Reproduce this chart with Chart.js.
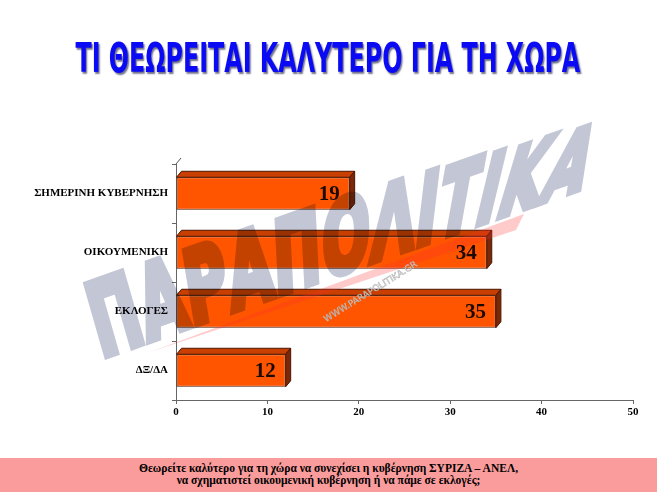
<!DOCTYPE html>
<html>
<head>
<meta charset="utf-8">
<script src="https://cdn.jsdelivr.net/npm/chart.js@4"></script>
<style>
    body { margin: 0; background: #fff; }
    #wrap { position: relative; width: 657px; height: 492px; overflow: hidden; }
    #title {
        position: absolute; left: 328px; top: 38px; white-space: nowrap;
        font-family: "DejaVu Sans", sans-serif; font-stretch: condensed;
        font-weight: bold; font-size: 41px; line-height: 41px; color: #0a0af5;
        text-shadow: 2px 2px 2px #70708a;
        transform-origin: 0 0;
    }
    #footer {
        position: absolute; left: 0; top: 458px; width: 657px; height: 34px;
        background: #fb9c9c; text-align: center;
        font-family: "Liberation Serif", serif; font-weight: bold; font-size: 11.5px;
        line-height: 12px; padding-top: 4px; box-sizing: border-box; color: #000;
    }
    canvas { position: absolute; left: 0; top: 0; }
</style>
</head>
<body>
<div id="wrap">
    <canvas id="chart" width="657" height="492"></canvas>
    <div id="title">ΤΙ ΘΕΩΡΕΙΤΑΙ ΚΑΛΥΤΕΡΟ ΓΙΑ ΤΗ ΧΩΡΑ</div>
    <div id="footer">Θεωρείτε καλύτερο για τη χώρα να συνεχίσει η κυβέρνηση ΣΥΡΙΖΑ – ΑΝΕΛ,<br>να σχηματιστεί οικουμενική κυβέρνηση ή να πάμε σε εκλογές;</div>
</div>
<script>
const categories = ["ΣΗΜΕΡΙΝΗ ΚΥΒΕΡΝΗΣΗ", "ΟΙΚΟΥΜΕΝΙΚΗ", "ΕΚΛΟΓΕΣ", "ΔΞ/ΔΑ"];
const values = [19, 34, 35, 12];
const xTicks = [0, 10, 20, 30, 40, 50];

// squeeze the title to the width it has in the picture
const title = document.getElementById("title");
const sx = 505 / title.offsetWidth;
title.style.transform = `translateX(-252.5px) scaleX(${sx})`;

// watermark is drawn once on its own canvas, then multiplied over the chart.
// letters fan out: the left ones lean left, the right ones lean right
function makeWatermark(w, h) {
    const word = "ΠΑΡΑΠΟΛΙΤΙΚΑ";
    const c = document.createElement("canvas");
    c.width = w;
    c.height = h;
    const g = c.getContext("2d");
    g.font = "bold 100px 'DejaVu Sans', sans-serif";
    const total = g.measureText(word).width;
    const len = 505, ang = 19.5 * Math.PI / 180;
    const k = len / total;
    const ux = Math.cos(ang), uy = -Math.sin(ang);
    g.fillStyle = "#c3c6d4";
    g.strokeStyle = "#c3c6d4";
    g.lineWidth = 8;
    let adv = 0;
    for (let i = 0; i < word.length; i++) {
        const ch = word[i];
        const cw = g.measureText(ch).width;
        const t = i / (word.length - 1);
        const lean = (-16 + 36 * t) * Math.PI / 180;
        const ox = 100 + adv * k * ux;
        const oy = 362 + adv * k * uy;
        g.setTransform(k * ux, k * uy, -Math.sin(lean), Math.cos(lean), ox, oy);
        g.fillText(ch, 4, -4);
        g.strokeText(ch, 4, -4);
        adv += cw;
    }
    return c;
}

// 3D faces for the bars + watermark + value labels
const bar3d = {
    id: "bar3d",
    afterDatasetsDraw(chart) {
        const ctx = chart.ctx;
        const meta = chart.getDatasetMeta(0);
        const dx = 5, dy = 6;
        meta.data.forEach((bar) => {
            const top = bar.y - bar.height / 2;
            const bottom = bar.y + bar.height / 2;
            ctx.save();
            ctx.strokeStyle = "#4a1500";
            ctx.lineWidth = 1;
            // top face
            ctx.beginPath();
            ctx.moveTo(bar.base, top);
            ctx.lineTo(bar.base + dx, top - dy);
            ctx.lineTo(bar.x + dx, top - dy);
            ctx.lineTo(bar.x, top);
            ctx.closePath();
            ctx.fillStyle = "#c93f00";
            ctx.fill();
            ctx.stroke();
            // right face
            ctx.beginPath();
            ctx.moveTo(bar.x, top);
            ctx.lineTo(bar.x + dx, top - dy);
            ctx.lineTo(bar.x + dx, bottom - dy);
            ctx.lineTo(bar.x, bottom);
            ctx.closePath();
            ctx.fillStyle = "#7a2808";
            ctx.fill();
            ctx.stroke();
            ctx.restore();
        });
    },
    afterDraw(chart) {
        const ctx = chart.ctx;
        const area = chart.chartArea;
        // red streak
        ctx.save();
        ctx.globalAlpha = 0.25;
        ctx.fillStyle = "#ff2a2a";
        ctx.beginPath();
        ctx.moveTo(150, 352);
        ctx.lineTo(524, 214);
        ctx.lineTo(516, 230);
        ctx.closePath();
        ctx.fill();
        ctx.restore();

        // big grey word
        ctx.save();
        ctx.globalCompositeOperation = "multiply";
        ctx.drawImage(makeWatermark(chart.width, chart.height), 0, 0);
        ctx.restore();

        // small url
        ctx.save();
        ctx.globalAlpha = 0.8;
        ctx.translate(372, 294);
        ctx.rotate(-0.55);
        ctx.font = "9px 'DejaVu Sans', sans-serif";
        ctx.fillStyle = "#ffffff";
        ctx.strokeStyle = "#999";
        ctx.lineWidth = 0.5;
        ctx.textAlign = "center";
        ctx.fillText("WWW.PARAPOLITIKA.GR", 0, 0);
        ctx.strokeText("WWW.PARAPOLITIKA.GR", 0, 0);
        ctx.restore();

        // value labels
        const meta = chart.getDatasetMeta(0);
        ctx.save();
        ctx.font = "bold 21px 'Liberation Serif', serif";
        ctx.fillStyle = "#1a0a00";
        ctx.textAlign = "right";
        ctx.textBaseline = "middle";
        meta.data.forEach((bar, i) => {
            ctx.fillText(values[i], bar.x - 10, bar.y + 1);
        });
        // 3D wall edge at the top of the axis
        ctx.strokeStyle = "#555";
        ctx.lineWidth = 1;
        ctx.beginPath();
        ctx.moveTo(area.left, area.top);
        ctx.lineTo(area.left + 5, area.top - 6);
        ctx.stroke();
        ctx.restore();
    }
};

const ctx = document.getElementById("chart").getContext("2d");
new Chart(ctx, {
    type: "bar",
    data: {
        labels: categories,
        datasets: [{
            data: values,
            backgroundColor: "#ff5500",
            borderColor: "#4a1500",
            borderWidth: 1,
            borderSkipped: false,
            categoryPercentage: 1,
            barPercentage: 0.55
        }]
    },
    options: {
        indexAxis: "y",
        responsive: false,
        animation: false,
        devicePixelRatio: 1,
        layout: { padding: { left: 0, right: 24, top: 164, bottom: 72 } },
        plugins: { legend: { display: false }, tooltip: { enabled: false } },
        scales: {
            x: {
                min: 0, max: 50,
                afterBuildTicks: (scale) => { scale.ticks = xTicks.map(v => ({ value: v })); },
                afterFit: (scale) => { scale.height = 20; },
                grid: { drawOnChartArea: false, tickLength: 4, color: "#666" },
                border: { color: "#666" },
                ticks: { color: "#000", padding: 2, font: { family: "'Liberation Serif', serif", weight: "bold", size: 11 } }
            },
            y: {
                afterFit: (scale) => { scale.width = 176; },
                grid: { drawOnChartArea: false, offset: true, tickLength: 4, color: "#666" },
                border: { color: "#666" },
                ticks: { color: "#000", padding: 4, font: { family: "'Liberation Serif', serif", weight: "bold", size: 11 } }
            }
        }
    },
    plugins: [bar3d]
});
</script>
</body>
</html>
